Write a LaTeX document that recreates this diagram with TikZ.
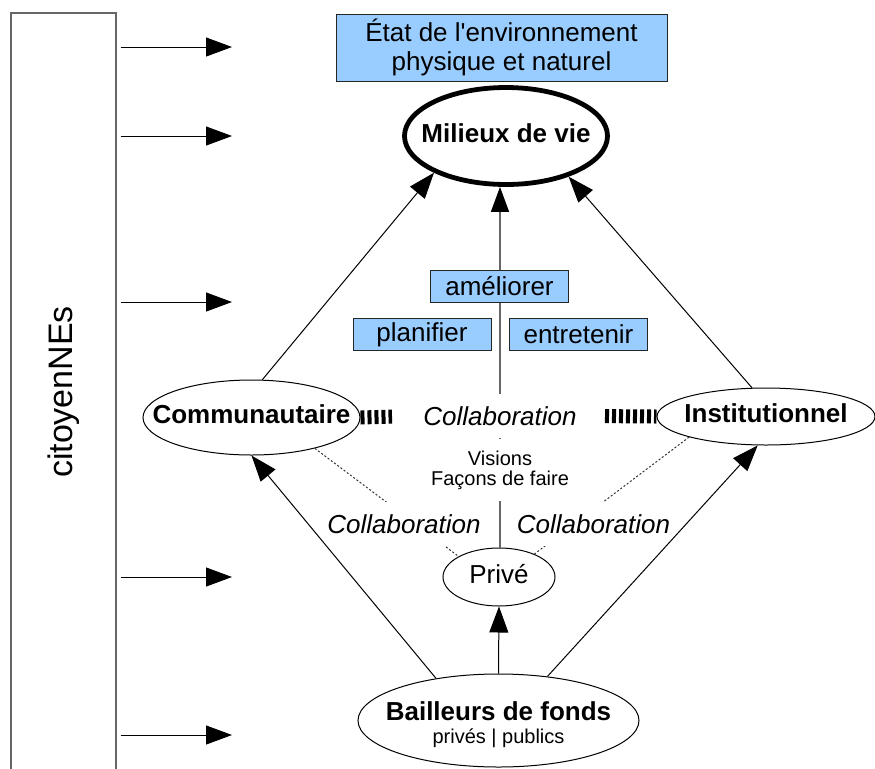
\documentclass[tikz,border=0pt]{standalone}
\usepackage{graphicx}
\usepackage{fontspec}
\setmainfont{Liberation Sans}
\usetikzlibrary{calc, shapes.geometric, arrows.meta}
\definecolor{paleblue}{RGB}{153,204,255}
\newcommand{\inzone}[1]{\makebox[0pt]{\strut #1}}

\begin{document}
\begin{tikzpicture}[x=.5pt, y=-.5pt]
    \tikzstyle{zone} = [ellipse, draw, inner sep=0pt, line width=.5pt,
        font=\fontsize{13}{15}\selectfont\bfseries]
    \tikzstyle{action} = [rectangle, draw=black!85, fill=paleblue, line width=.5pt,
        minimum width=69pt, minimum height=16pt, inner sep=0pt,
        font=\fontsize{13}{15}\selectfont]
    \tikzstyle{flow} = [line width=.5pt, -{Triangle[length=13pt, width=9.5pt]}]
    \tikzstyle{centerline} = [black!60, line width=.8pt]
    \tikzstyle{hatch} = [line width=7pt, dash pattern=on 2pt off 1.5pt]
    \tikzstyle{collab} = [inner sep=6pt, font=\fontsize{13}{15}\selectfont\itshape]
    \tikzstyle{collabline} = [black!80, line width=.5pt, dash pattern=on 1pt off 1pt]

    \useasboundingbox (0, 0) rectangle (875, 768);

    % Citizens ------------------------------------------
    \node (citoyens) at (63.5, 392) [draw=black!60, line width=.7pt, inner sep=0pt,
        minimum width=52.5pt, minimum height=379pt,
        font=\fontsize{17}{20}\selectfont] {\rotatebox{90}{citoyenNEs}};
    \foreach \y in {47, 136, 302, 577, 735} {
        \coordinate (out\y) at (232, \y);
        \draw [flow, shorten <=2pt] (citoyens.east |- out\y) -- (out\y);
    }

    % Environment and living areas ----------------------
    \node (etat) at (501.5, 47.5) [action, minimum width=165.5pt, minimum height=33.5pt,
        align=center, font=\fontsize{13}{14.5}\selectfont]
        {État de l\textquotesingle environnement\\physique et naturel};
    \node (milieux) at (506, 136) [zone, line width=2.4pt, minimum width=101.5pt,
        minimum height=48.5pt] {\inzone{Milieux de vie}};

    % Actors --------------------------------------------
    \node (comm) at (251.5, 417.5) [zone, minimum width=108.5pt, minimum height=37.5pt]
        {\inzone{Communautaire}};
    \node (inst) at (766, 416.5) [zone, minimum width=109pt, minimum height=28.5pt]
        {\inzone{Institutionnel}};
    \node (prive) at (499, 577) [zone, font=\fontsize{13}{15}\selectfont,
        minimum width=56pt, minimum height=29pt] {\inzone{Privé}};
    \node (bail) at (498.5, 720.5) [zone, minimum width=140.5pt, minimum height=46.5pt,
        text height=23pt, text depth=0pt]
        {\makebox[0pt]{\begin{tabular}[b]{@{}c@{}}Bailleurs de fonds\\[-3.5pt]
        \fontsize{10}{12}\mdseries\selectfont privés | publics\end{tabular}}};

    % Collaboration -------------------------------------
    \node (collab) at (500, 416) [collab] {Collaboration};
    \node (visions) at (500, 470) [inner xsep=2pt, inner ysep=5.5pt, align=center,
        font=\fontsize{10}{10}\selectfont] {Visions\\Façons de faire};

    \draw [centerline] (visions.south |- prive.north) -- (visions.south);
    \draw [centerline] (visions.north) -- (collab.south);
    \draw [centerline, -{Triangle[length=12.5pt, width=9pt, color=black]}]
        (collab.north) -- (collab.north |- milieux.south);

    % Actions
    \node (ameliorer) at (499.5, 286.5) [action] {améliorer};
    \node (planifier) at ($(ameliorer) + (-77.5, 48)$) [action] {planifier};
    \node (entretenir) at ($(ameliorer) + (79, 48)$) [action] {entretenir};

    \draw [hatch, shorten >=9.5pt] (comm.east) -- (collab.west);
    \draw [hatch, shorten <=8pt] (collab.east) -- (inst.west);

    \draw [collabline] (comm.-26) -- (prive.153);
    \draw [collabline] (inst.195) -- (prive.33);
    \node (collabL) at (404, 524) [collab, fill=white] {Collaboration};
    \node (collabR) at (593.5, 524) [collab, fill=white] {Collaboration};

    % Influences ----------------------------------------
    \draw [flow] (comm.74) -- (milieux.207);
    \draw [flow] (inst.116) -- (milieux.-33);
    \draw [flow] (bail.146) -- (comm.south);
    \draw [flow] (bail.42) -- (inst.254);
    \draw [flow] (bail.north) -- (prive.south);
\end{tikzpicture}
\end{document}
